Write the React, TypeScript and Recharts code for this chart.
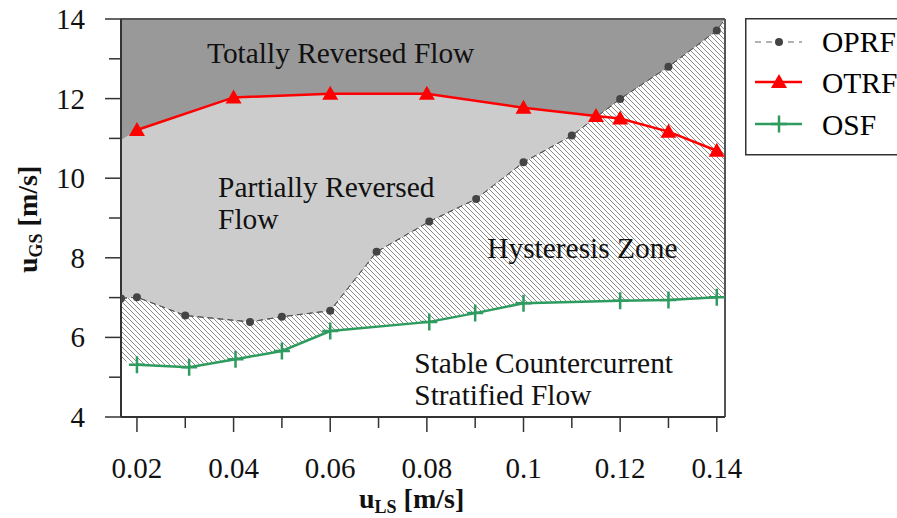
import React from "react";
import {
  ComposedChart,
  Area,
  Line,
  XAxis,
  YAxis,
  CartesianGrid,
  ReferenceLine,
  ReferenceDot,
} from "recharts";

// axis range (the plot starts a bit left of 0.02)
const X_MIN = 0.0167;
const X_MAX = 0.1417;
const Y_MIN = 4;
const Y_MAX = 14;

const xTicks = [0.02, 0.03, 0.04, 0.05, 0.06, 0.07, 0.08, 0.09, 0.1, 0.11, 0.12, 0.13, 0.14];
const yTicks = [4, 5, 6, 7, 8, 9, 10, 11, 12, 13, 14];

// OPRF - onset of partially reversed flow
const oprfX = [0.0167, 0.02, 0.03, 0.0434, 0.05, 0.06, 0.0696, 0.0805, 0.0902, 0.1, 0.11, 0.12, 0.13, 0.14];
const oprfY = [6.98, 7.01, 6.55, 6.39, 6.52, 6.67, 8.15, 8.91, 9.48, 10.4, 11.07, 11.99, 12.8, 13.71];

// OTRF - onset of totally reversed flow
const otrfX = [0.02, 0.04, 0.06, 0.08, 0.1, 0.115, 0.12, 0.13, 0.14];
const otrfY = [11.21, 12.03, 12.12, 12.12, 11.77, 11.56, 11.5, 11.17, 10.69];

// OSF - onset of stratified flow
const osfX = [0.02, 0.0308, 0.0404, 0.05, 0.06, 0.0805, 0.09, 0.1, 0.12, 0.13, 0.14];
const osfY = [5.31, 5.25, 5.45, 5.66, 6.16, 6.39, 6.61, 6.86, 6.92, 6.94, 7.01];

// where the region borders meet the plot edges
const otrfEdgeLeft = 10.96;
const oprfEdgeRight = 14;
const osfEdgeLeft = 5.43;
const osfEdgeRight = 7.03;

const zip = (xs: number[], ys: number[]) => xs.map((x, i) => ({ x, y: ys[i] }));

const oprf = zip(oprfX, oprfY);
const otrf = zip(otrfX, otrfY);
const osf = zip(osfX, osfY);

const lightBorder = [{ x: X_MIN, y: otrfEdgeLeft }, ...otrf];
const hatchBorder = [...oprf, { x: X_MAX, y: oprfEdgeRight }];
const whiteBorder = [{ x: X_MIN, y: osfEdgeLeft }, ...osf, { x: X_MAX, y: osfEdgeRight }];

const notes = [
  { x: 0.0345, y: 12.89, text: "Totally Reversed Flow" },
  { x: 0.0368, y: 9.53, text: "Partially Reversed" },
  { x: 0.0368, y: 8.72, text: "Flow" },
  { x: 0.0925, y: 8.0, text: "Hysteresis Zone" },
  { x: 0.0774, y: 5.11, text: "Stable Countercurrent" },
  { x: 0.0774, y: 4.3, text: "Stratified Flow" },
];

const FONT = "'Liberation Serif', 'Times New Roman', serif";
const RED = "#ff0000";
const GREEN = "#2e9b5f";
const DOT = "#444444";

const XTick = ({ x, y, payload }: any) => {
  const major = Math.round(payload.value * 100) % 2 === 0;
  return (
    <g>
      <line x1={x} x2={x} y1={y} y2={y + (major ? 15 : 11)} stroke="#333" strokeWidth={1.5} />
      {major && (
        <text x={x} y={y + 61} textAnchor="middle" fontSize={29} fontFamily={FONT} fill="#111">
          {String(payload.value)}
        </text>
      )}
    </g>
  );
};

const YTick = ({ x, y, payload }: any) => {
  const major = payload.value % 2 === 0;
  return (
    <g>
      <line x1={x - (major ? 16 : 12)} x2={x} y1={y} y2={y} stroke="#333" strokeWidth={1.5} />
      {major && (
        <text x={x - 36} y={y + 10} textAnchor="end" fontSize={29} fontFamily={FONT} fill="#111">
          {payload.value}
        </text>
      )}
    </g>
  );
};

const Triangle = ({ cx, cy, index }: any) => (
  <polygon
    key={index}
    points={`${cx},${cy - 8} ${cx - 8},${cy + 6} ${cx + 8},${cy + 6}`}
    fill={RED}
  />
);

const Plus = ({ cx, cy, index }: any) => (
  <path
    key={index}
    d={`M${cx - 8},${cy} H${cx + 8} M${cx},${cy - 8.5} V${cy + 8.5}`}
    stroke={GREEN}
    strokeWidth={2.5}
    fill="none"
  />
);

const Legend = () => (
  <svg width={152} height={140} style={{ position: "absolute", left: 745, top: 18 }}>
    <rect x={0.75} y={0.75} width={170} height={136} fill="#fff" stroke="#333" strokeWidth={1.5} />
    <g transform="translate(-745,-18)">
      <line x1={755} x2={802} y1={42} y2={42} stroke="#666" strokeWidth={1.2} strokeDasharray="6 5" />
      <circle cx={779} cy={42} r={4} fill={DOT} />
      <text x={822} y={52} fontSize={29.5} fontFamily={FONT}>OPRF</text>

      <line x1={755} x2={802} y1={82} y2={82} stroke={RED} strokeWidth={2.5} />
      <Triangle cx={779} cy={82} />
      <text x={822} y={93} fontSize={29.5} fontFamily={FONT}>OTRF</text>

      <line x1={755} x2={802} y1={124} y2={124} stroke={GREEN} strokeWidth={2.5} />
      <Plus cx={779} cy={124} />
      <text x={822} y={135} fontSize={29.5} fontFamily={FONT}>OSF</text>
    </g>
  </svg>
);

export default function App() {
  return (
    <div style={{ position: "absolute", left: 0, top: 0, width: 897, height: 518, background: "#fff" }}>
      <ComposedChart
        width={897}
        height={518}
        margin={{ top: 19, right: 172, bottom: 0, left: 0 }}
      >
        <defs>
          <pattern id="hatch" patternUnits="userSpaceOnUse" width={5} height={5}>
            <rect width={5} height={5} fill="#fff" />
            <path d="M-1,-1 L6,6 M-1,4 L1,6 M4,-1 L6,1" stroke="#8a8a8a" strokeWidth={1} />
          </pattern>
        </defs>
        {/* dark background = totally reversed flow */}
        <CartesianGrid horizontal={false} vertical={false} fill="#999999" />
        <XAxis
          dataKey="x"
          type="number"
          domain={[X_MIN, X_MAX]}
          ticks={xTicks}
          interval={0}
          allowDataOverflow
          height={101}
          tickSize={0}
          tickMargin={0}
          tickLine={false}
          axisLine={{ stroke: "#333", strokeWidth: 2 }}
          tick={<XTick />}
        />
        <YAxis
          dataKey="y"
          type="number"
          domain={[Y_MIN, Y_MAX]}
          ticks={yTicks}
          interval={0}
          allowDataOverflow
          width={121}
          tickSize={0}
          tickMargin={0}
          tickLine={false}
          axisLine={{ stroke: "#333", strokeWidth: 2 }}
          tick={<YTick />}
        />

        <Area
          data={lightBorder}
          dataKey="y"
          baseValue={Y_MIN}
          fill="#cccccc"
          fillOpacity={1}
          stroke="none"
          isAnimationActive={false}
        />
        <Area
          data={hatchBorder}
          dataKey="y"
          baseValue={Y_MIN}
          fill="url(#hatch)"
          fillOpacity={1}
          stroke="#555"
          strokeWidth={1}
          strokeDasharray="6 4"
          isAnimationActive={false}
        />
        <Area
          data={whiteBorder}
          dataKey="y"
          baseValue={Y_MIN}
          fill="#ffffff"
          fillOpacity={1}
          stroke="none"
          isAnimationActive={false}
        />

        <ReferenceLine y={Y_MAX} stroke="#555" strokeWidth={2} />
        <ReferenceLine x={X_MAX} stroke="#555" strokeWidth={2} />

        <Line
          data={oprf}
          dataKey="y"
          stroke="#555"
          strokeWidth={1}
          strokeDasharray="6 4"
          dot={{ r: 4, fill: DOT, stroke: "none" }}
          isAnimationActive={false}
        />
        <Line
          data={otrf}
          dataKey="y"
          stroke={RED}
          strokeWidth={2.5}
          dot={(p: any) => <Triangle key={p.index} {...p} />}
          isAnimationActive={false}
        />
        <Line
          data={osf}
          dataKey="y"
          stroke={GREEN}
          strokeWidth={2.5}
          dot={(p: any) => <Plus key={p.index} {...p} />}
          isAnimationActive={false}
        />

        {notes.map((n) => (
          <ReferenceDot
            key={n.text}
            x={n.x}
            y={n.y}
            r={0}
            fill="none"
            stroke="none"
            label={{
              content: (p: any) => (
                <text
                  x={p.viewBox.x}
                  y={p.viewBox.y}
                  fontSize={29.4}
                  fontFamily={FONT}
                  fill="#111"
                >
                  {n.text}
                </text>
              ),
            }}
          />
        ))}
      </ComposedChart>

      <Legend />

      <svg width={897} height={518} style={{ position: "absolute", left: 0, top: 0, pointerEvents: "none" }}>
        <text x={359} y={508} fontSize={28} fontWeight="bold" fontFamily={FONT} fill="#111">
          u<tspan fontSize={18} dy={5}>LS</tspan>
          <tspan dy={-5}> [m/s]</tspan>
        </text>
        <text
          transform="translate(37,273) rotate(-90)"
          fontSize={28}
          fontWeight="bold"
          fontFamily={FONT}
          fill="#111"
        >
          u<tspan fontSize={18} dy={5}>GS</tspan>
          <tspan dy={-5}> [m/s]</tspan>
        </text>
      </svg>
    </div>
  );
}
